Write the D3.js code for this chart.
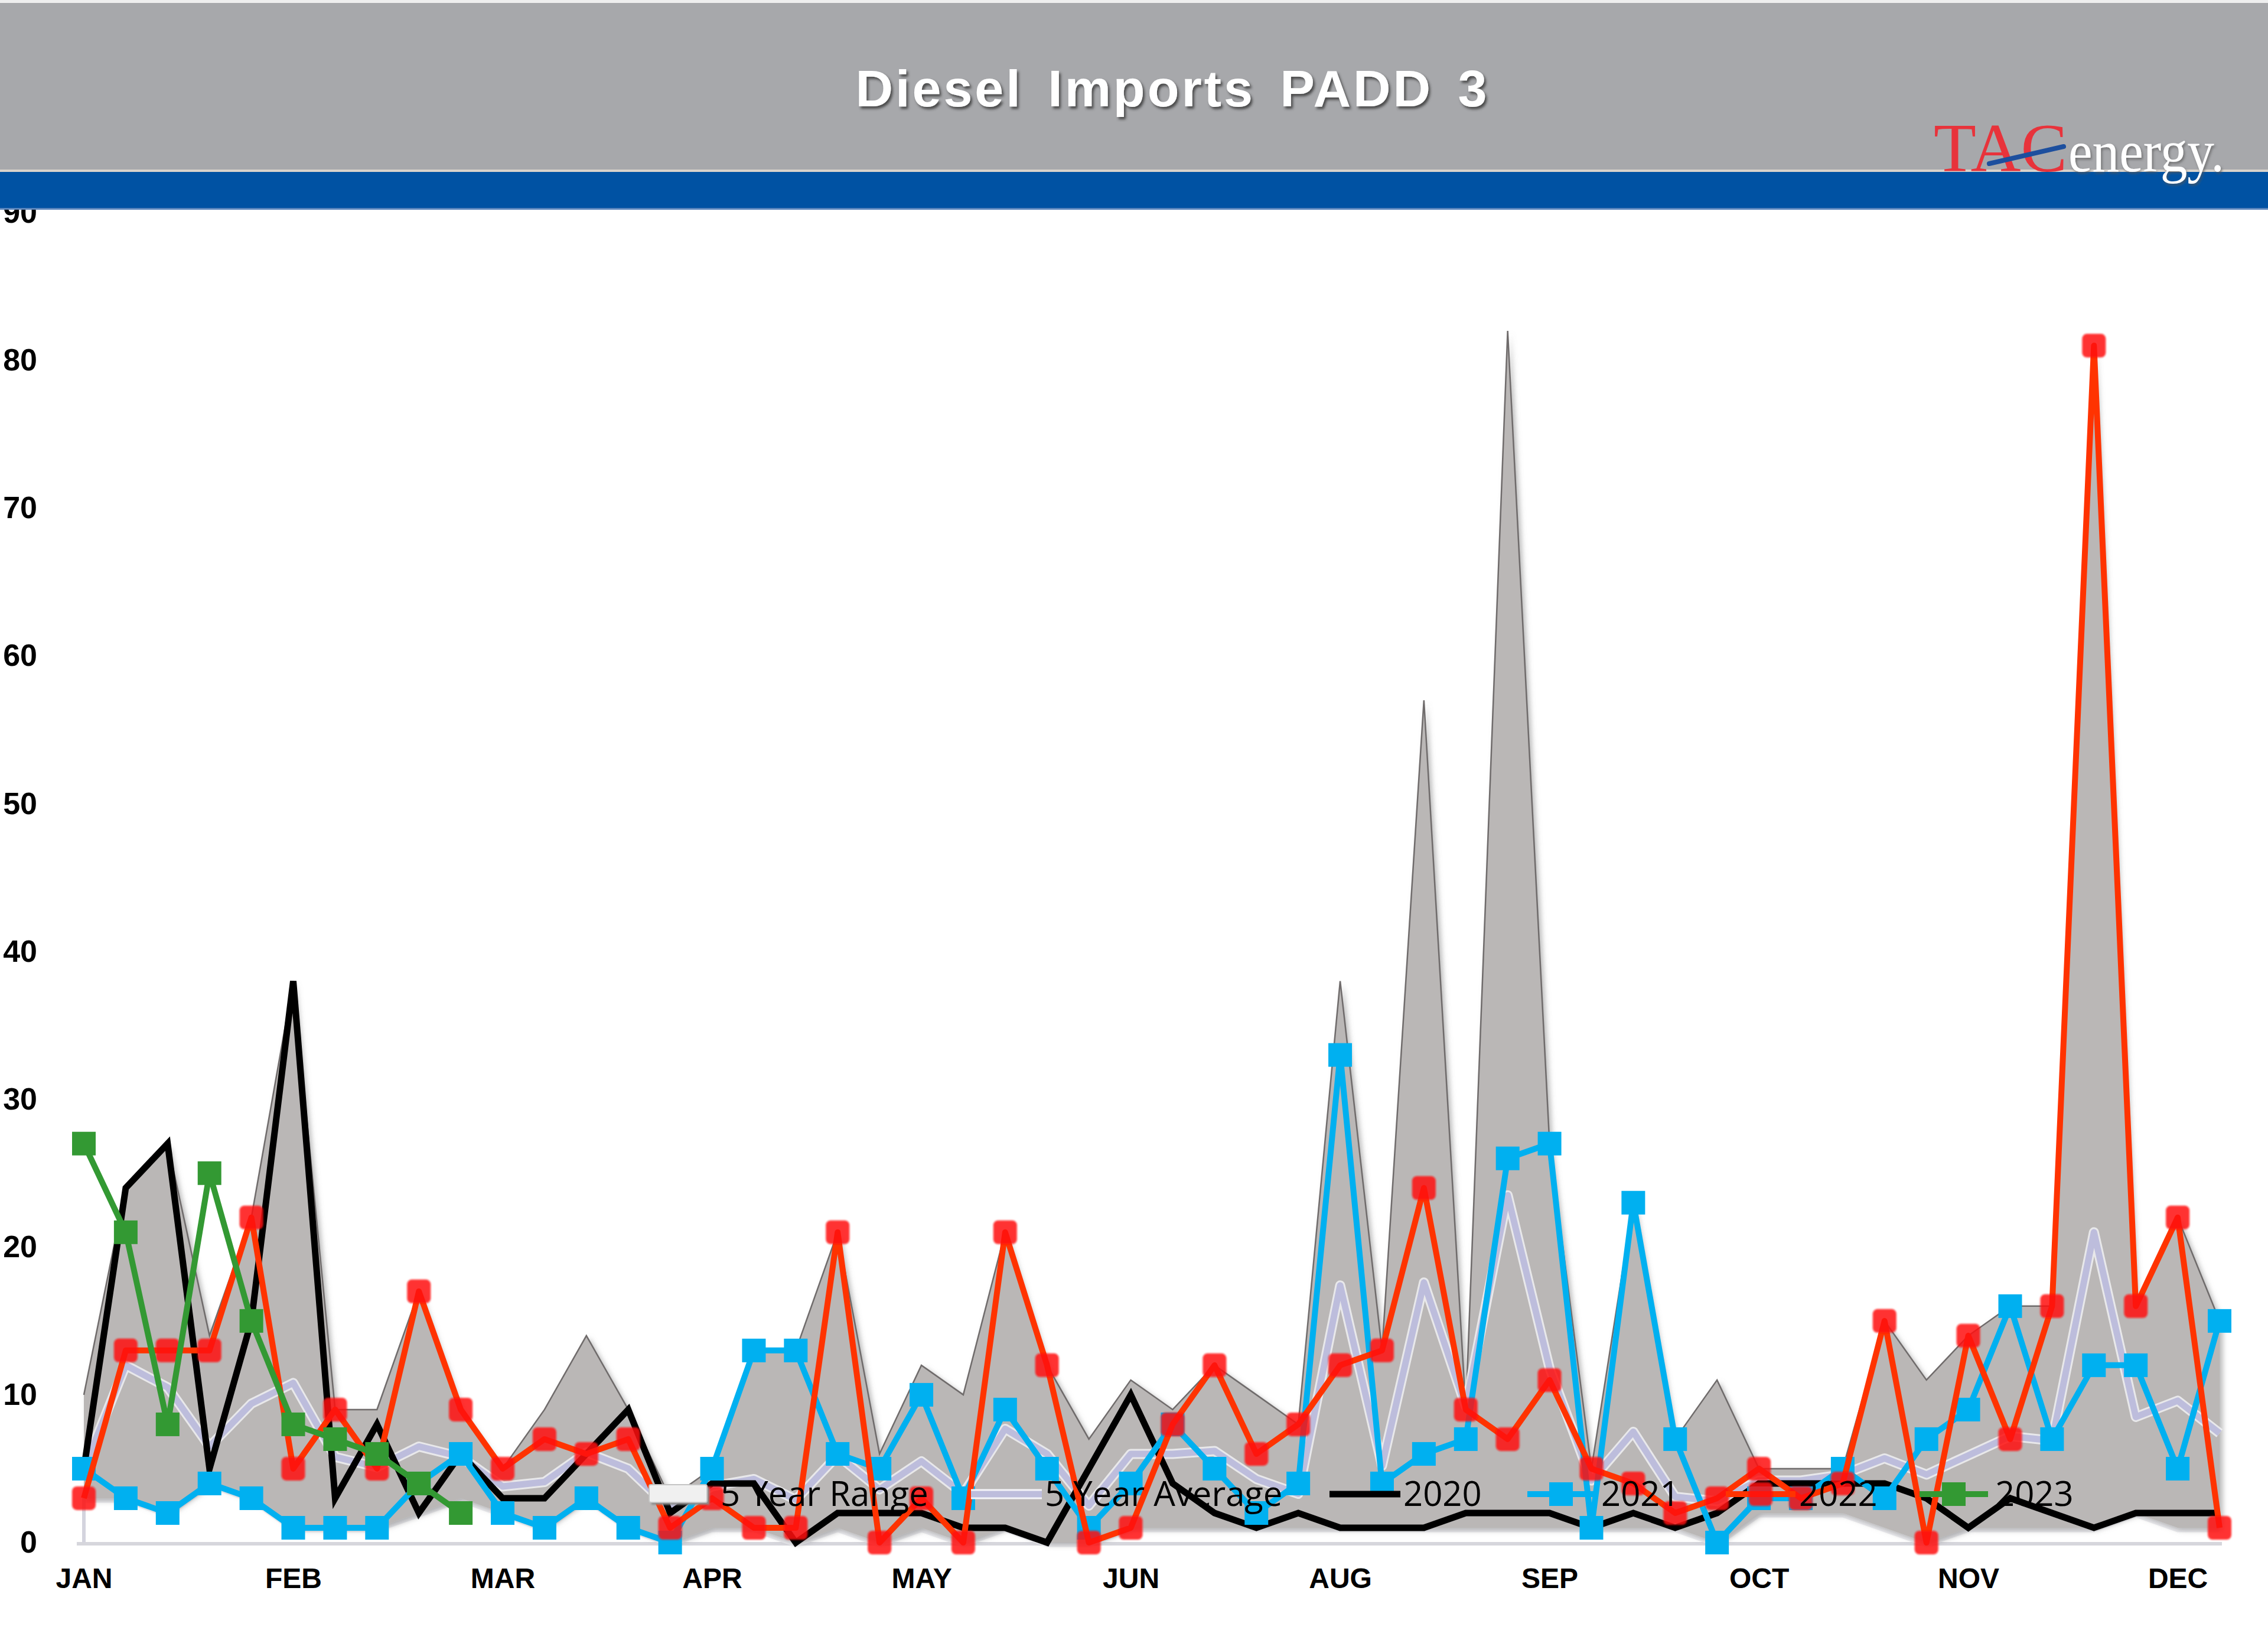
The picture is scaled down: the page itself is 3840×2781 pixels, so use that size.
<!DOCTYPE html>
<html>
<head>
<meta charset="utf-8">
<script src="https://cdn.jsdelivr.net/npm/d3@7/dist/d3.min.js"></script>
<style>
  html, body { margin: 0; padding: 0; background: #ffffff; }
  svg { display: block; }
</style>
</head>
<body>
<svg id="chart" width="3840" height="2781"></svg>
<script>
// ---------------- DATA ----------------
const weeks = d3.range(1, 53); // 52 weekly categories
const tickIndex = [0, 5, 10, 15, 20, 25, 30, 35, 40, 45, 50];
const tickLabels = ["JAN", "FEB", "MAR", "APR", "MAY", "JUN", "AUG", "SEP", "OCT", "NOV", "DEC"];
const yTicks = [0, 10, 20, 30, 40, 50, 60, 70, 80, 90];

const rangeMax = [10, 24, 27, 14, 22, 38, 9, 9, 17, 9, 5, 9, 14, 9, 3, 5, 13, 13, 21, 6,
                  12, 10, 21, 12, 7, 11, 9, 12, 10, 8, 38, 13, 57, 9, 82, 27, 5, 23, 7, 11,
                  5, 5, 5, 15, 11, 14, 16, 16, 81, 16, 22, 15];
const rangeMin = [3, 3, 2, 4, 3, 1, 1, 1, 2, 3, 2, 1, 3, 1, 0, 1, 1, 0, 1, 0,
                  1, 0, 1, 0, 0, 1, 1, 1, 1, 1, 1, 1, 1, 1, 1, 1, 1, 1, 1, 0,
                  2, 2, 2, 1, 0, 1, 1, 1, 1, 2, 1, 1];
const avg5 = [5, 12, 10.5, 6.5, 9.4, 10.8, 5.8, 5.1, 6.5, 5.8, 3.8, 4.1, 6.1, 5, 2.3, 3.8, 4.3, 2.9, 5.9, 3.6,
              5.5, 3.3, 7.7, 6, 2.5, 6, 6, 6.2, 4.3, 3.3, 17.4, 5.2, 17.6, 9.2, 23.5, 11.8, 4.2, 7.5, 3.1, 2.8,
              4.2, 4.2, 4.6, 5.7, 4.6, 5.9, 7.2, 6.9, 21, 8.5, 9.6, 7.4];
const y2020 = [5, 24, 27, 5, 15, 38, 3, 8, 2, 6, 3, 3, 6, 9, 2, 4, 4, 0, 2, 2,
               2, 1, 1, 0, 5, 10, 4, 2, 1, 2, 1, 1, 1, 2, 2, 2, 1, 2, 1, 2,
               4, 4, 4, 4, 3, 1, 3, 2, 1, 2, 2, 2];
const y2021 = [5, 3, 2, 4, 3, 1, 1, 1, 4, 6, 2, 1, 3, 1, 0, 5, 13, 13, 6, 5,
               10, 3, 9, 5, 1, 4, 8, 5, 2, 4, 33, 4, 6, 7, 26, 27, 1, 23, 7, 0,
               3, 3, 5, 3, 7, 9, 16, 7, 12, 12, 5, 15];
const y2022 = [3, 13, 13, 13, 22, 5, 9, 5, 17, 9, 5, 7, 6, 7, 1, 3, 1, 1, 21, 0,
               3, 0, 21, 12, 0, 1, 8, 12, 6, 8, 12, 13, 24, 9, 7, 11, 5, 4, 2, 3,
               5, 3, 4, 15, 0, 14, 7, 16, 81, 16, 22, 1];
const y2023 = [27, 21, 8, 25, 15, 8, 7, 6, 4, 2];

const legendNames = ["5 Year Range", "5 Year Average", "2020", "2021", "2022", "2023"];

// ---------------- LAYOUT ----------------
const svg = d3.select("#chart");
const x = d3.scaleLinear().domain([0, weeks.length - 1]).range([142, 3758]);
const y = d3.scaleLinear().domain([0, 90]).range([2611, 360]);

const defs = svg.append("defs");
const sh = defs.append("filter").attr("id", "rangeShadow")
  .attr("x", "-5%").attr("y", "-5%").attr("width", "110%").attr("height", "110%");
sh.append("feDropShadow").attr("dx", 5).attr("dy", 4).attr("stdDeviation", 5)
  .attr("flood-color", "#7a7a7a").attr("flood-opacity", 0.55);
const soft = defs.append("filter").attr("id", "soft");
soft.append("feGaussianBlur").attr("stdDeviation", 1.4);
const tshadow = defs.append("filter").attr("id", "titleShadow")
  .attr("x", "-10%").attr("y", "-30%").attr("width", "120%").attr("height", "160%");
tshadow.append("feDropShadow").attr("dx", 3).attr("dy", 4).attr("stdDeviation", 2)
  .attr("flood-color", "#3a3a3a").attr("flood-opacity", 0.85);
const lshadow = defs.append("filter").attr("id", "logoShadow")
  .attr("x", "-10%").attr("y", "-30%").attr("width", "120%").attr("height", "160%");
lshadow.append("feDropShadow").attr("dx", 2).attr("dy", 3).attr("stdDeviation", 2)
  .attr("flood-color", "#555").attr("flood-opacity", 0.7);

const plot = svg.append("g");

// baseline
plot.append("line")
  .attr("x1", x(0) - 12).attr("x2", x(51) + 4)
  .attr("y1", y(0) + 2).attr("y2", y(0) + 2)
  .attr("stroke", "#d6d6dc").attr("stroke-width", 6);

// white glow along min edge and the left edge of the base area
plot.append("path")
  .datum(rangeMin)
  .attr("d", d3.line().x((d, i) => x(i)).y(d => y(d) + 4))
  .attr("fill", "none").attr("stroke", "#ececf0").attr("stroke-width", 7);
plot.append("line")
  .attr("x1", x(0)).attr("x2", x(0)).attr("y1", y(0)).attr("y2", y(rangeMin[0]))
  .attr("stroke", "#d4d4de").attr("stroke-width", 6);

// 5-year range area
const area = d3.area().x((d, i) => x(i)).y0((d, i) => y(rangeMin[i])).y1(d => y(d));
plot.append("path")
  .datum(rangeMax)
  .attr("d", area)
  .attr("fill", "#bab7b6")
  .attr("filter", "url(#rangeShadow)");
plot.append("path")
  .datum(rangeMax)
  .attr("d", d3.line().x((d, i) => x(i)).y(d => y(d)))
  .attr("fill", "none").attr("stroke", "#6f6b6b").attr("stroke-width", 2.5)
  .attr("stroke-linejoin", "miter");

// 5-year average
const lineGen = d3.line().x((d, i) => x(i)).y(d => y(d));
plot.append("path").datum(avg5).attr("d", lineGen)
  .attr("fill", "none").attr("stroke", "#f4f4f8").attr("stroke-width", 17)
  .attr("stroke-opacity", 0.8).attr("stroke-linejoin", "round");
plot.append("path").datum(avg5).attr("d", lineGen)
  .attr("fill", "none").attr("stroke", "#bdbddc").attr("stroke-width", 11)
  .attr("stroke-linejoin", "round");

// 2020
plot.append("path").datum(y2020).attr("d", lineGen)
  .attr("fill", "none").attr("stroke", "#000000").attr("stroke-width", 11)
  .attr("stroke-linejoin", "miter").attr("stroke-miterlimit", 6);

function series(data, lineColor, markColor, opts) {
  const g = plot.append("g");
  g.append("path").datum(data).attr("d", lineGen)
    .attr("fill", "none").attr("stroke", lineColor).attr("stroke-width", 10)
    .attr("stroke-linejoin", "round");
  g.selectAll("rect").data(data).join("rect")
    .attr("x", (d, i) => x(i) - 20).attr("y", d => y(d) - 20)
    .attr("width", 40).attr("height", 40)
    .attr("rx", opts.rx).attr("fill", markColor)
    .attr("fill-opacity", opts.op)
    .attr("filter", opts.blur ? "url(#soft)" : null);
}
series(y2021, "#00b0f0", "#00b0f0", { rx: 0, op: 1, blur: false });
series(y2022, "#ff3300", "#ff1010", { rx: 8, op: 0.85, blur: true });
series(y2023, "#339933", "#339933", { rx: 0, op: 1, blur: false });

// ---------------- AXES ----------------
const xAxis = d3.axisBottom(x).tickValues(tickIndex)
  .tickFormat((d, i) => tickLabels[i]).tickSize(0).tickPadding(43);
const gx = svg.append("g").attr("transform", `translate(0,${y(0)})`).call(xAxis);
gx.select(".domain").remove();
gx.selectAll("text").attr("font-family", "'Liberation Sans', Arial, sans-serif")
  .attr("font-weight", "bold").attr("font-size", 48).attr("fill", "#000");

const yAxis = d3.axisLeft(y).tickValues(yTicks).tickSize(0).tickPadding(0);
const gy = svg.append("g").attr("transform", "translate(63,0)").call(yAxis);
gy.select(".domain").remove();
gy.selectAll("text").attr("font-family", "'Liberation Sans', Arial, sans-serif")
  .attr("font-weight", "bold").attr("font-size", 52).attr("fill", "#000");

// ---------------- LEGEND ----------------
const lg = svg.append("g");
const ly = 2529;
const legendLayout = [
  { sx1: 1099, sx2: 1197, tx: 1220 },
  { sx1: 1644, sx2: 1764, tx: 1769 },
  { sx1: 2251, sx2: 2371, tx: 2376 },
  { sx1: 2586, sx2: 2700, tx: 2711 },
  { sx1: 2922, sx2: 3040, tx: 3046 },
  { sx1: 3250, sx2: 3366, tx: 3378 }
];
// range swatch
lg.append("rect").attr("x", legendLayout[0].sx1 + 4).attr("y", ly - 12).attr("width", 98).attr("height", 30)
  .attr("fill", "#8d8d8d").attr("filter", "url(#soft)");
lg.append("rect").attr("x", legendLayout[0].sx1).attr("y", ly - 16).attr("width", 98).attr("height", 30)
  .attr("rx", 3).attr("fill", "#f0f0f0").attr("stroke", "#c4c4c4").attr("stroke-width", 2);
// avg swatch
lg.append("line").attr("x1", legendLayout[1].sx1).attr("x2", legendLayout[1].sx2)
  .attr("y1", ly).attr("y2", ly).attr("stroke", "#f4f4f8").attr("stroke-width", 17);
lg.append("line").attr("x1", legendLayout[1].sx1).attr("x2", legendLayout[1].sx2)
  .attr("y1", ly).attr("y2", ly).attr("stroke", "#bdbddc").attr("stroke-width", 11);
// 2020
lg.append("line").attr("x1", legendLayout[2].sx1).attr("x2", legendLayout[2].sx2)
  .attr("y1", ly).attr("y2", ly).attr("stroke", "#000").attr("stroke-width", 11);
// year series swatches
const swatchStyle = [
  { i: 3, line: "#00b0f0", mark: "#00b0f0", rx: 0, op: 1, blur: false },
  { i: 4, line: "#ff3300", mark: "#ff1010", rx: 8, op: 0.85, blur: true },
  { i: 5, line: "#339933", mark: "#339933", rx: 0, op: 1, blur: false }
];
swatchStyle.forEach(s => {
  const L = legendLayout[s.i];
  lg.append("line").attr("x1", L.sx1).attr("x2", L.sx2).attr("y1", ly).attr("y2", ly)
    .attr("stroke", s.line).attr("stroke-width", 10);
  const cx = (L.sx1 + L.sx2) / 2;
  lg.append("rect").attr("x", cx - 20).attr("y", ly - 20).attr("width", 40).attr("height", 40)
    .attr("rx", s.rx).attr("fill", s.mark).attr("fill-opacity", s.op)
    .attr("filter", s.blur ? "url(#soft)" : null);
});
lg.selectAll("text.leg").data(legendNames).join("text").attr("class", "leg")
  .attr("x", (d, i) => legendLayout[i].tx).attr("y", ly + 20)
  .attr("font-family", "'Open Sans', sans-serif").attr("font-size", 58).attr("fill", "#000")
  .text(d => d);

// ---------------- HEADER ----------------
const hd = svg.append("g");
hd.append("rect").attr("x", 0).attr("y", 0).attr("width", 3840).attr("height", 6).attr("fill", "#eeeeee");
hd.append("rect").attr("x", 0).attr("y", 5).attr("width", 3840).attr("height", 285).attr("fill", "#a7a8ab");
hd.append("rect").attr("x", 0).attr("y", 287).attr("width", 3840).attr("height", 4).attr("fill", "#d9d3cb");
hd.append("rect").attr("x", 0).attr("y", 291).attr("width", 3840).attr("height", 63).attr("fill", "#0052a3");
hd.append("rect").attr("x", 0).attr("y", 352).attr("width", 3840).attr("height", 3).attr("fill", "#5b86bd");

hd.append("text").attr("x", 1985).attr("y", 180).attr("text-anchor", "middle")
  .attr("font-family", "'Liberation Sans', Arial, sans-serif").attr("font-weight", "bold")
  .attr("font-size", 88).attr("letter-spacing", 4).attr("word-spacing", 14)
  .attr("fill", "#ffffff").attr("filter", "url(#titleShadow)")
  .text("Diesel Imports PADD 3");

// logo
hd.append("text").attr("x", 3274).attr("y", 290)
  .attr("font-family", "'Liberation Serif', 'Times New Roman', serif")
  .attr("font-size", 116).attr("fill", "#e8333b")
  .attr("textLength", 226).attr("lengthAdjust", "spacingAndGlyphs")
  .text("TAC");
hd.append("line").attr("x1", 3368).attr("y1", 277).attr("x2", 3494).attr("y2", 248)
  .attr("stroke", "#1d4f9e").attr("stroke-width", 8).attr("stroke-linecap", "round");
hd.append("text").attr("x", 3502).attr("y", 290)
  .attr("font-family", "'Liberation Serif', 'Times New Roman', serif")
  .attr("font-size", 100).attr("fill", "#ffffff")
  .attr("textLength", 264).attr("lengthAdjust", "spacingAndGlyphs")
  .attr("filter", "url(#logoShadow)")
  .text("energy.");
</script>
</body>
</html>
